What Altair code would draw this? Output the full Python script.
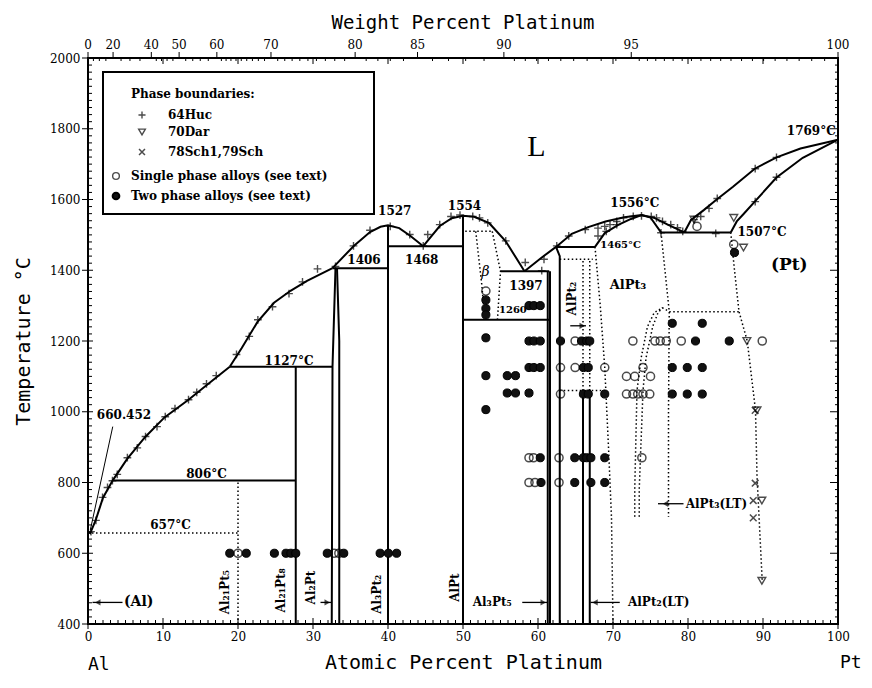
import altair as alt
import pandas as pd

# ---------------- data (at.% Pt, temperature °C) ----------------
liq_1 = [(0, 660.5), (0.3, 657), (1.0, 692), (2.0, 757), (3.3, 806), (5.2, 866), (7.6, 928),
         (10.2, 984), (13.4, 1034), (15.8, 1075), (18.9, 1127)]
liq_2 = [(18.9, 1127), (20.5, 1180), (22.6, 1254), (24.8, 1308), (27.0, 1342), (29.2, 1370), (32.6, 1406)]
liq_3 = [(32.6, 1406), (35.4, 1468), (37.6, 1508), (39.0, 1523), (40.0, 1527), (41.5, 1519),
         (43.0, 1497), (44.7, 1468)]
liq_4 = [(44.7, 1468), (46.9, 1525), (48.5, 1547), (50.0, 1554), (51.5, 1551), (53.5, 1533),
         (55.7, 1482), (58.2, 1397)]
liq_5 = [(58.2, 1397), (60.5, 1436), (62.4, 1466), (64.5, 1503), (66.7, 1522), (69.0, 1538),
         (71.5, 1550), (73.8, 1556), (75.5, 1548), (77.3, 1529), (79.5, 1507)]
sol_alpt3_l = [(67.6, 1466), (68.9, 1505), (70.7, 1528), (72.4, 1545), (73.8, 1556)]
sol_alpt3_r = [(73.8, 1556), (75.0, 1549), (76.4, 1507)]
liq_6 = [(79.5, 1507), (80.4, 1542), (82.1, 1570), (83.7, 1598), (86.0, 1636), (88.9, 1687),
         (91.8, 1719), (95.0, 1744), (100, 1769)]
sol_pt = [(85.7, 1507), (86.5, 1538), (87.5, 1561), (88.9, 1594), (91.8, 1662), (95.3, 1718), (100, 1769)]

# invariant reactions: (x from, x to, T)
h_lines = [(3.3, 27.7, 806), (18.9, 32.6, 1127), (32.6, 40, 1406), (40, 50, 1468),
           (50, 61.5, 1260), (55.0, 61.5, 1397), (62.4, 67.6, 1466), (76.4, 85.7, 1507)]

# compound phase boundaries
v_lines = [[(27.7, 400), (27.7, 1127)],
           [(32.5, 400), (32.6, 1127), (33.0, 1406)],
           [(33.5, 400), (33.5, 1200), (33.2, 1406)],
           [(40, 400), (40, 1527)],
           [(50, 400), (50, 1554)],
           [(61.3, 400), (61.3, 1397)],
           [(61.6, 400), (61.6, 1397)],
           [(62.9, 400), (62.9, 1440), (62.4, 1466)],
           [(66.0, 400), (66.0, 1060)],
           [(66.9, 400), (66.9, 1060)]]

# dotted (uncertain) boundaries
d_lines = [[(0, 657), (20, 657)],
           [(20, 400), (20, 806)],
           [(50.3, 1510), (53.9, 1510)],
           [(51.7, 1510), (52.5, 1360), (52.9, 1262)],
           [(53.9, 1510), (55.0, 1397), (54.6, 1262)],
           [(62.9, 1431), (67.3, 1431)],
           [(66.0, 1060), (66.0, 1431)],
           [(66.9, 1060), (66.9, 1431)],
           [(62.9, 1060), (68.9, 1060)],
           [(67.6, 1466), (68.3, 1300), (68.9, 1125), (69.4, 900), (69.8, 700), (70.0, 400)],
           [(72.9, 703), (72.9, 782), (73.2, 1060), (73.75, 1152), (74.6, 1241), (75.5, 1280),
            (76.6, 1294), (77.5, 1283)],
           [(73.5, 703), (73.5, 782), (74.0, 1060), (74.4, 1152), (75.3, 1241), (76.0, 1280), (76.6, 1294)],
           [(76.4, 1507), (77.5, 1283), (77.4, 1000), (77.4, 703)],
           [(77.5, 1283), (86.8, 1283)],
           [(85.7, 1507), (86.2, 1400), (86.8, 1283), (87.9, 1200), (89.0, 1004), (89.2, 819), (89.9, 520)]]

pointer_line = [(3.3, 958), (0.3, 665)]

# 64Huc
huc_x = [0.4, 1.06, 1.94, 2.6, 3.26, 3.9, 5.25, 6.57, 7.67, 9.2, 10.3, 11.6, 13.4, 14.5, 15.8, 17.1,
         19.8, 21.5, 22.65, 24.6, 26.8, 28.6, 30.6, 33.0, 35.4, 37.6, 40.3, 42.9, 44.7, 45.3, 46.9,
         48.4, 49.6, 51.3, 52.2, 53.3, 55.7, 58.3, 60.5, 60.8, 62.5, 64.1, 66.3, 68.0, 68.9, 69.6,
         70.5, 71.4, 72.7, 73.8, 75.1, 75.8, 76.6, 77.7, 78.6, 79.3, 68.0, 69.1, 70.5, 76.4, 83.7,
         80.8, 81.7, 82.8, 83.9, 88.96, 91.8, 88.96, 91.8]
huc_t = [661, 693, 758, 786, 805, 823, 870, 898, 930, 958, 986, 1009, 1034, 1055, 1079, 1102,
         1162, 1213, 1260, 1297, 1334, 1367, 1404, 1411, 1469, 1513, 1524, 1501, 1469, 1501, 1529,
         1552, 1556, 1552, 1548, 1534, 1483, 1422, 1399, 1431, 1469, 1497, 1515, 1519, 1524, 1529,
         1538, 1548, 1552, 1554, 1552, 1548, 1538, 1529, 1520, 1510, 1497, 1510, 1529, 1506, 1504,
         1543, 1552, 1575, 1603, 1687, 1719, 1594, 1663]
# 70Dar
dar_x = [80.8, 86.1, 87.4, 87.85, 89.2, 89.85, 89.85]
dar_t = [1543, 1548, 1464, 1200, 1004, 749, 522]
# 78Sch1, 79Sch
sch_x = [88.96, 88.96, 88.7, 88.7]
sch_t = [1004, 798, 749, 700]
# single phase alloys
one_x = [20.0, 32.8, 33.45, 53.05, 64.95, 72.65, 75.6, 76.3, 77.1, 79.1, 89.9, 63.0, 64.95, 68.9,
         74.0, 71.8, 72.9, 75.0, 63.0, 71.8, 72.65, 73.3, 74.0, 74.9, 58.8, 59.4, 62.8, 73.85,
         58.8, 59.6, 62.8, 86.1, 81.2]
one_t = [600, 600, 600, 1341, 1200, 1200, 1200, 1200, 1200, 1200, 1200, 1125, 1125, 1125,
         1125, 1100, 1100, 1100, 1050, 1050, 1050, 1050, 1050, 1050, 870, 870, 870, 870,
         800, 800, 800, 1473, 1524]
# two phase alloys
two_x = [18.9, 21.1, 24.85, 26.4, 27.05, 27.7, 31.9, 34.1, 38.95, 40.05, 41.15,
         53.05, 53.05, 53.05, 58.8, 59.45, 60.3, 77.9, 81.9,
         53.05, 58.8, 59.45, 60.3, 63.0, 65.8, 66.5, 66.9, 81.0, 85.5,
         58.8, 59.45, 60.3, 66.05, 66.7, 77.9, 79.9, 81.9,
         53.05, 55.9, 57.0, 55.9, 57.0, 58.8, 66.05, 66.7, 68.9, 77.9, 79.9, 81.9,
         53.05, 60.3, 64.9, 66.05, 66.5, 67.05, 68.9, 60.4, 64.9, 67.05, 68.9, 86.2]
two_t = [600, 600, 600, 600, 600, 600, 600, 600, 600, 600, 600,
         1316, 1292, 1274, 1300, 1300, 1300, 1250, 1250,
         1209, 1200, 1200, 1200, 1200, 1200, 1200, 1200, 1200, 1200,
         1125, 1125, 1125, 1125, 1125, 1125, 1125, 1125,
         1102, 1102, 1102, 1053, 1053, 1053, 1050, 1050, 1050, 1050, 1050, 1050,
         1006, 870, 870, 870, 870, 870, 870, 800, 800, 800, 800, 1450]

# labels
num_lbl = ["1527", "1554", "1468", "1406", "1397", "1127°C", "806°C", "657°C", "660.452", "1556°C"]
num_x = [40.9, 50.2, 44.5, 36.8, 58.4, 26.8, 15.8, 11.0, 4.8, 72.9]
num_t = [1567, 1582, 1428, 1428, 1355, 1143, 823, 679, 990, 1589]
small_lbl = ["1260", "1465°C"]
small_x = [54.8, 68.3]
small_t = [1289, 1470]
left_lbl = ["1507°C", "Al₃Pt₅", "AlPt₂(LT)", "AlPt₃(LT)"]
left_x = [86.6, 51.3, 72.0, 79.7]
left_t = [1508, 461, 461, 740]
rot_lbl = ["Al₂₁Pt₅", "Al₂₁Pt₈", "Al₂Pt", "Al₃Pt₂", "AlPt", "AlPt₂"]
rot_x = [18.3, 25.7, 29.7, 38.5, 48.9, 64.5]
rot_t = [490, 495, 503, 484, 503, 1320]
phase_lbl = ["(Al)", "(Pt)", "AlPt₃"]
phase_x = [4.8, 93.5, 72.0]
phase_t = [461, 1414, 1358]

# arrows: shaft from, shaft to, T, head x, head direction
arrows = [(0.6, 4.6, 461, 1.3, "left"), (31.0, 32.4, 461, 31.9, "right"),
          (57.9, 61.3, 461, 60.7, "right"), (67.0, 70.9, 461, 67.6, "left"),
          (76.0, 79.4, 740, 77.0, "left"), (64.3, 66.4, 1243, 65.9, "right")]

wt_labels = [0, 20, 40, 50, 60, 70, 80, 85, 90, 95, 100]
wt_minor = ([5, 10, 15, 25, 30, 35] + list(range(42, 50, 2)) + list(range(52, 60, 2))
            + [w for w in range(61, 90) if w not in (70, 80, 85)]
            + [90 + 0.5 * i for i in range(1, 10)] + [95 + 0.25 * i for i in range(1, 20)])
legend_labels = ["Phase boundaries:", "64Huc", "70Dar", "78Sch1,79Sch",
                 "Single phase alloys (see text)", "Two phase alloys (see text)"]

# ---------------- helpers ----------------
W, H = 750, 566
MW_PT, MW_AL = 195.08, 26.98
XT, YT = "Atomic Percent Platinum", "Temperature °C"


def wt_to_at(w):
    if w >= 100:
        return 100.0
    a = w / MW_PT
    b = (100 - w) / MW_AL
    return 100 * a / (a + b)


def lx(px):  # legend layout pixel -> data x
    return px / W * 100


def lt(py):  # legend layout pixel -> data T
    return 2000 - py / H * 1600


xs = alt.Scale(domain=[0, 100], nice=False, zero=False)
ys = alt.Scale(domain=[400, 2000], nice=False, zero=False)
X = alt.X("x:Q", scale=xs, title=XT)
Y = alt.Y("t:Q", scale=ys, title=YT)


def seg_df(segs, kind):
    rows = []
    for i, s in enumerate(segs):
        for j, (x, t) in enumerate(s):
            rows.append(dict(seg=f"{kind}{i}", o=j, x=x, t=t))
    return pd.DataFrame(rows)


def pts(xv, tv):
    return pd.DataFrame({"x": xv, "t": tv})


def txt(labels, xv, tv, **kw):
    df = pd.DataFrame({"x": xv, "t": tv, "label": labels})
    props = dict(color="black", font="DejaVu Serif", fontWeight="bold", fontSize=12)
    props.update(kw)
    return alt.Chart(df).mark_text(**props).encode(x=X, y=Y, text="label:N")


solid_segs = [liq_1, liq_2, liq_3, liq_4, liq_5, sol_alpt3_l, sol_alpt3_r, liq_6, sol_pt]
solid_segs += [[(a, t), (b, t)] for a, b, t in h_lines]
solid_segs += v_lines

solid = alt.Chart(seg_df(solid_segs, "s")).mark_line(color="black", strokeWidth=2).encode(
    x=alt.X("x:Q", scale=xs, title=XT, axis=alt.Axis(
        values=list(range(0, 101, 10)), grid=False, format="d",
        ticks=False, domain=False, labelFont="DejaVu Serif", labelFontSize=12, labelColor="black",
        labelPadding=7, labelFlush=False, titleFont="DejaVu Sans Mono", titleFontSize=20,
        titleFontWeight="normal", titleColor="black", titlePadding=10)),
    y=alt.Y("t:Q", scale=ys, title=YT, axis=alt.Axis(
        values=list(range(400, 2001, 200)), grid=False, format="d",
        ticks=False, domain=False, labelFont="DejaVu Serif", labelFontSize=12, labelColor="black",
        labelPadding=8, titleFont="DejaVu Sans Mono", titleFontSize=20,
        titleFontWeight="normal", titleColor="black", titlePadding=16)),
    detail="seg:N", order="o:Q")

dotted = alt.Chart(seg_df(d_lines, "d")).mark_line(
    color="black", strokeWidth=1.5, strokeDash=[1.5, 2.5]).encode(x=X, y=Y, detail="seg:N", order="o:Q")
pointer = alt.Chart(seg_df([pointer_line], "p")).mark_line(color="black", strokeWidth=1).encode(
    x=X, y=Y, detail="seg:N", order="o:Q")

shaft_df = seg_df([[(a, t), (b, t)] for a, b, t, _, _ in arrows], "a")
shafts = alt.Chart(shaft_df).mark_line(color="black", strokeWidth=1.3).encode(
    x=X, y=Y, detail="seg:N", order="o:Q")
heads_l = alt.Chart(pts([h for _, _, _, h, d in arrows if d == "left"],
                        [t for _, _, t, _, d in arrows if d == "left"])).mark_point(
    shape="triangle-left", filled=True, color="black", size=40).encode(x=X, y=Y)
heads_r = alt.Chart(pts([h for _, _, _, h, d in arrows if d == "right"],
                        [t for _, _, t, _, d in arrows if d == "right"])).mark_point(
    shape="triangle-right", filled=True, color="black", size=40).encode(x=X, y=Y)

PLUS = "M-1,0L1,0M0,-1L0,1"
CROSS = "M-0.8,-0.8L0.8,0.8M-0.8,0.8L0.8,-0.8"

p_huc = alt.Chart(pts(huc_x, huc_t)).mark_point(shape=PLUS, filled=False, color="black",
                                                 strokeWidth=1.4, size=60).encode(x=X, y=Y)
p_dar = alt.Chart(pts(dar_x, dar_t)).mark_point(shape="triangle-down", filled=False, color="black",
                                                 strokeWidth=1.4, size=60).encode(x=X, y=Y)
p_sch = alt.Chart(pts(sch_x, sch_t)).mark_point(shape=CROSS, filled=False, color="black",
                                                 strokeWidth=1.5, size=70).encode(x=X, y=Y)
p_one = alt.Chart(pts(one_x, one_t)).mark_point(shape="circle", filled=False, color="black",
                                                 strokeWidth=1.5, size=66).encode(x=X, y=Y)
p_two = alt.Chart(pts(two_x, two_t)).mark_point(shape="circle", filled=True, fill="#111111",
                                                 stroke="black", strokeWidth=1, opacity=1,
                                                 size=66).encode(x=X, y=Y)

t_num = txt(num_lbl, num_x, num_t, align="center", baseline="middle")
t_small = txt(small_lbl, small_x, small_t, align="left", baseline="middle", fontSize=10)
t_left = txt(left_lbl, left_x, left_t, align="left", baseline="middle")
t_1769 = txt(["1769°C"], [99.7], [1793], align="right", baseline="middle")
t_rot = txt(rot_lbl, rot_x, rot_t, align="center", baseline="middle", angle=270)
t_al = txt(phase_lbl[:1], phase_x[:1], phase_t[:1], align="left", baseline="middle", fontSize=14)
t_pt = txt(phase_lbl[1:2], phase_x[1:2], phase_t[1:2], align="center", baseline="middle", fontSize=17)
t_alpt3 = txt(phase_lbl[2:], phase_x[2:], phase_t[2:], align="center", baseline="middle", fontSize=13)
t_beta = txt(["β"], [53.0], [1394], fontWeight="normal", fontStyle="italic", fontSize=14,
             align="center", baseline="middle")
t_L = txt(["L"], [59.8], [1748], font="Liberation Serif", fontWeight="normal", fontSize=30,
          align="center", baseline="middle")
t_al_end = txt(["Al"], [0.0], [400], font="DejaVu Sans Mono", fontWeight="normal", fontSize=18,
               align="left", baseline="alphabetic", dy=46)
t_pt_end = txt(["Pt"], [100.0], [400], font="DejaVu Sans Mono", fontWeight="normal", fontSize=18,
               align="left", baseline="alphabetic", dx=2, dy=44)


# ---------------- axes decorations ----------------
def vrule(xv, y0, y1):
    return alt.Chart(pd.DataFrame({"x": xv})).mark_rule(color="black", strokeWidth=1).encode(
        x=X, y=alt.value(y0), y2=alt.value(y1))


def hrule(tv, x0, x1):
    return alt.Chart(pd.DataFrame({"t": tv})).mark_rule(color="black", strokeWidth=1).encode(
        y=Y, x=alt.value(x0), x2=alt.value(x1))


bot_major = vrule(list(range(0, 101, 10)), H - 6, H + 5)
bot_minor = vrule([i for i in range(1, 100) if i % 10], H - 4, H)
left_major = hrule(list(range(400, 2001, 200)), -6, 5)
left_minor = hrule([t for t in range(420, 2000, 20) if t % 200], 0, 4)
right_major = hrule(list(range(400, 2001, 200)), W - 8, W)
right_minor = hrule([t for t in range(420, 2000, 20) if t % 200], W - 3, W)
top_major = vrule([wt_to_at(w) for w in wt_labels], -6, 0)
top_down = vrule(list(range(10, 100, 10)), 0, 6)
top_minor = vrule([wt_to_at(w) for w in wt_minor], 0, 3)

top_lbl = alt.Chart(pd.DataFrame({"x": [wt_to_at(w) for w in wt_labels],
                                  "label": [str(w) for w in wt_labels]})).mark_text(
    color="black", font="DejaVu Serif", fontSize=12, baseline="alphabetic", align="center").encode(
    x=X, y=alt.value(-9), text="label:N")
top_title = alt.Chart(pd.DataFrame({"label": ["Weight Percent Platinum"]})).mark_text(
    color="black", font="DejaVu Sans Mono", fontSize=19, baseline="alphabetic", align="center").encode(
    x=alt.value(W / 2), y=alt.value(-29), text="label:N")

# ---------------- legend (layout given in plot pixels, mapped through the scales) ----------------
leg_box = alt.Chart(pd.DataFrame({"k": [0]})).mark_rect(
    fill="white", stroke="black", strokeWidth=2).encode(
    x=alt.value(15), x2=alt.value(286), y=alt.value(14), y2=alt.value(156))
leg_text = txt(legend_labels, [lx(p) for p in [43, 80, 80, 80, 43, 43]],
               [lt(p) for p in [36, 57, 74, 94, 118, 138]], align="left", baseline="middle")
leg_plus = alt.Chart(pts([lx(54)], [lt(57)])).mark_point(
    shape=PLUS, filled=False, color="black", strokeWidth=1.4, size=50).encode(x=X, y=Y)
leg_tri = alt.Chart(pts([lx(54)], [lt(74)])).mark_point(
    shape="triangle-down", filled=False, color="black", strokeWidth=1.4, size=45).encode(x=X, y=Y)
leg_x = alt.Chart(pts([lx(54)], [lt(94)])).mark_point(
    shape=CROSS, filled=False, color="black", strokeWidth=1.5, size=55).encode(x=X, y=Y)
leg_one = alt.Chart(pts([lx(28)], [lt(118)])).mark_point(
    shape="circle", filled=False, color="black", strokeWidth=1.4, size=45).encode(x=X, y=Y)
leg_two = alt.Chart(pts([lx(28)], [lt(138)])).mark_point(
    shape="circle", filled=True, fill="#111111", stroke="black", opacity=1, size=45).encode(x=X, y=Y)

chart = alt.layer(
    solid, dotted, pointer, shafts, heads_l, heads_r,
    p_huc, p_dar, p_sch, p_one, p_two,
    t_num, t_small, t_left, t_1769, t_rot, t_al, t_pt, t_alpt3, t_beta, t_L, t_al_end, t_pt_end,
    bot_major, bot_minor, left_major, left_minor, right_major, right_minor,
    top_major, top_down, top_minor, top_lbl, top_title,
    leg_box, leg_text, leg_plus, leg_tri, leg_x, leg_one, leg_two,
).properties(
    width=W, height=H,
    padding={"left": 80, "top": 50, "right": 24, "bottom": 52},
    autosize=alt.AutoSizeParams(type="none"),
).configure_view(stroke="black", strokeWidth=2)

chart.save("out.html", embed_options={"renderer": "svg", "actions": False})
